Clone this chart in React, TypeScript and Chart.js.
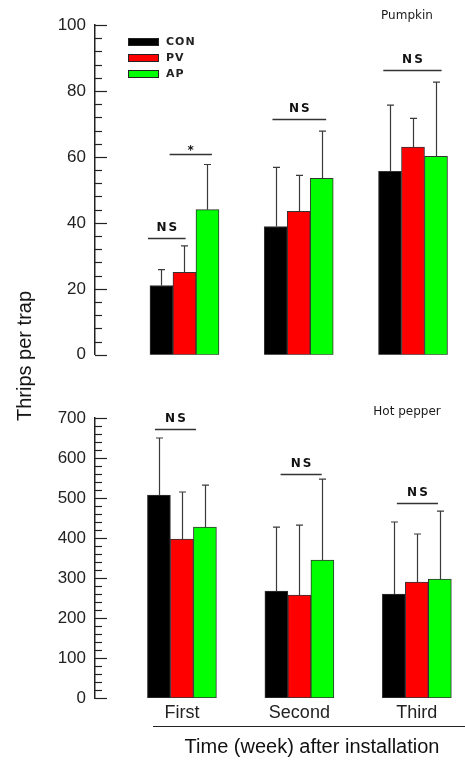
import React, { useEffect, useRef } from 'react';
import { Chart, registerables } from 'chart.js';

Chart.register(...registerables);

// ---------- data ----------
const categories = ['First', 'Second', 'Third'];
const seriesLabels = ['CON', 'PV', 'AP'];
const seriesColors = ['#000000', '#ff0000', '#00ff00'];

// Pumpkin (top panel)
const pumpkinCON = [21, 38.9, 55.6];
const pumpkinPV = [25, 43.5, 63];
const pumpkinAP = [44, 53.5, 60.2];
const pumpkinErrCON = [4.8, 17.9, 20.1];
const pumpkinErrPV = [8, 10.9, 8.7];
const pumpkinErrAP = [13.7, 14.3, 22.5];
const pumpkinSig = [
  { from: 0.68, to: 1.01, y: 35.5, text: 'NS' },
  { from: 0.87, to: 1.24, y: 61, text: '*' },
  { from: 1.77, to: 2.24, y: 71.4, text: 'NS' },
  { from: 2.74, to: 3.25, y: 86.3, text: 'NS' },
];

// Hot pepper (bottom panel)
const pepperCON = [507, 267, 260];
const pepperPV = [397, 257, 290];
const pepperAP = [427, 345, 297];
const pepperErrCON = [143, 160, 180];
const pepperErrPV = [118, 175, 120];
const pepperErrAP = [105, 202, 170];
const pepperSig = [
  { from: 0.77, to: 1.12, y: 672, text: 'NS' },
  { from: 1.84, to: 2.19, y: 560, text: 'NS' },
  { from: 2.83, to: 3.18, y: 487, text: 'NS' },
];

const yAxisTitle = 'Thrips per trap';
const xAxisTitle = 'Time (week) after installation';

// ---------- helpers ----------
const FONT = "'Liberation Sans', Arial, sans-serif";
const SMALL_FONT = "'DejaVu Sans', Verdana, sans-serif";
const INK = '#222222';

function makeDatasets(values: number[][], errors: number[][]) {
  return values.map((vals, s) => ({
    label: seriesLabels[s],
    data: vals.map((v, i) => ({ x: i + 1, y: v })),
    errors: errors[s],
    backgroundColor: seriesColors[s],
    borderColor: '#333333',
    borderWidth: 1,
    borderSkipped: false,
    barThickness: 23,
  }));
}

type PanelOpts = {
  values: number[][];
  errors: number[][];
  sig: { from: number; to: number; y: number; text: string }[];
  yMax: number;
  yMajor: number;
  yMinor: number;
  xMin: number;
  xMax: number;
  padTop: number;
  padBottom: number;
  showX: boolean;
  cropLabel: string;
  cropLabelY: number;
  showLegend: boolean;
  height: number;
};

function makePlugin(o: PanelOpts) {
  return {
    id: 'extras',
    afterDatasetsDraw(chart: any) {
      const ctx = chart.ctx;
      const yScale = chart.scales.y;
      ctx.save();
      ctx.strokeStyle = '#3a3a3a';
      ctx.lineWidth = 1.2;
      chart.data.datasets.forEach((ds: any, d: number) => {
        const meta = chart.getDatasetMeta(d);
        meta.data.forEach((bar: any, i: number) => {
          const v = ds.data[i].y;
          const e = ds.errors[i];
          const x = Math.round(bar.x) + 0.5;
          const yTop = yScale.getPixelForValue(v + e);
          ctx.beginPath();
          ctx.moveTo(x, bar.y);
          ctx.lineTo(x, yTop);
          ctx.moveTo(x - 3.5, yTop);
          ctx.lineTo(x + 3.5, yTop);
          ctx.stroke();
        });
      });
      ctx.restore();
    },
    afterDraw(chart: any) {
      const ctx = chart.ctx;
      const yScale = chart.scales.y;
      const xScale = chart.scales.x;
      const axisX = chart.chartArea.left;
      ctx.save();
      // inward tick marks
      ctx.strokeStyle = INK;
      ctx.lineWidth = 1.2;
      yScale.ticks.forEach((t: any) => {
        const y = Math.round(yScale.getPixelForValue(t.value)) + 0.5;
        const len = t.value % o.yMajor === 0 ? 12 : 7;
        ctx.beginPath();
        ctx.moveTo(axisX, y);
        ctx.lineTo(axisX + len, y);
        ctx.stroke();
      });
      // significance brackets
      o.sig.forEach((s) => {
        const x1 = xScale.getPixelForValue(s.from);
        const x2 = xScale.getPixelForValue(s.to);
        const y = Math.round(yScale.getPixelForValue(s.y)) + 0.5;
        ctx.strokeStyle = '#333333';
        ctx.lineWidth = 1.5;
        ctx.beginPath();
        ctx.moveTo(x1, y);
        ctx.lineTo(x2, y);
        ctx.stroke();
        ctx.fillStyle = '#111111';
        ctx.textAlign = 'center';
        ctx.textBaseline = 'alphabetic';
        if (s.text === '*') {
          ctx.font = `bold 12px ${SMALL_FONT}`;
          (ctx as any).letterSpacing = '0px';
          ctx.fillText(s.text, (x1 + x2) / 2, y - 1);
        } else {
          ctx.font = `bold 12px ${SMALL_FONT}`;
          (ctx as any).letterSpacing = '2px';
          ctx.fillText(s.text, (x1 + x2) / 2 + 1, y - 8);
          (ctx as any).letterSpacing = '0px';
        }
      });
      // crop label
      ctx.fillStyle = '#1a1a1a';
      ctx.font = `12px ${SMALL_FONT}`;
      ctx.textAlign = 'center';
      ctx.textBaseline = 'middle';
      ctx.fillText(o.cropLabel, 407, o.cropLabelY);
      // legend
      if (o.showLegend) {
        chart.data.datasets.forEach((ds: any, d: number) => {
          const cy = 42 + d * 16;
          ctx.fillStyle = ds.backgroundColor;
          ctx.fillRect(128, cy - 4, 31, 8);
          ctx.strokeStyle = '#222222';
          ctx.lineWidth = 1;
          ctx.strokeRect(128.5, cy - 3.5, 30, 7);
          ctx.fillStyle = '#222222';
          ctx.font = `bold 11px ${SMALL_FONT}`;
          (ctx as any).letterSpacing = '1px';
          ctx.textAlign = 'left';
          ctx.textBaseline = 'middle';
          ctx.fillText(ds.label, 166, cy);
          (ctx as any).letterSpacing = '0px';
        });
      }
      // x axis underline and title
      if (o.showX) {
        ctx.strokeStyle = '#222222';
        ctx.lineWidth = 1.2;
        ctx.beginPath();
        ctx.moveTo(153, 356.5);
        ctx.lineTo(465, 356.5);
        ctx.stroke();
        ctx.fillStyle = '#111111';
        ctx.font = `20px ${FONT}`;
        ctx.textAlign = 'center';
        ctx.textBaseline = 'middle';
        ctx.fillText(xAxisTitle, 312, 377);
      }
      ctx.restore();
    },
  };
}

function makeConfig(o: PanelOpts): any {
  return {
    type: 'bar',
    data: { datasets: makeDatasets(o.values, o.errors) },
    plugins: [makePlugin(o)],
    options: {
      responsive: false,
      animation: false,
      events: [],
      layout: { padding: { top: o.padTop, bottom: o.showX ? 0 : o.padBottom, left: 0, right: 0 } },
      plugins: { legend: { display: false }, tooltip: { enabled: false } },
      scales: {
        x: {
          type: 'linear',
          min: o.xMin,
          max: o.xMax,
          offset: false,
          display: o.showX,
          grid: { display: false, drawTicks: false },
          border: { display: false },
          ticks: {
            stepSize: 1,
            includeBounds: false,
            autoSkip: false,
            maxRotation: 0,
            padding: 4,
            color: INK,
            font: { family: FONT, size: 18 },
            callback: (v: number) => (Number.isInteger(v) && categories[v - 1] ? categories[v - 1] : ''),
          },
          afterFit: (s: any) => {
            if (o.showX) s.height = o.padBottom;
          },
        },
        y: {
          min: 0,
          max: o.yMax,
          grid: { display: false, drawTicks: false },
          border: { display: true, color: INK, width: 1.5 },
          ticks: {
            stepSize: o.yMinor,
            autoSkip: false,
            padding: 9,
            color: INK,
            font: { family: FONT, size: 17 },
            callback: (v: number) => (v % o.yMajor === 0 ? String(v) : ''),
          },
          afterFit: (s: any) => {
            s.width = 95;
          },
        },
      },
    },
  };
}

const topPanel: PanelOpts = {
  values: [pumpkinCON, pumpkinPV, pumpkinAP],
  errors: [pumpkinErrCON, pumpkinErrPV, pumpkinErrAP],
  sig: pumpkinSig,
  yMax: 100,
  yMajor: 20,
  yMinor: 4,
  xMin: 0.217,
  xMax: 3.455,
  padTop: 25,
  padBottom: 12,
  showX: false,
  cropLabel: 'Pumpkin',
  cropLabelY: 16,
  showLegend: true,
  height: 374,
};

const bottomPanel: PanelOpts = {
  values: [pepperCON, pepperPV, pepperAP],
  errors: [pepperErrCON, pepperErrPV, pepperErrAP],
  sig: pepperSig,
  yMax: 700,
  yMajor: 100,
  yMinor: 20,
  xMin: 0.26,
  xMax: 3.41,
  padTop: 48,
  padBottom: 62,
  showX: true,
  cropLabel: 'Hot pepper',
  cropLabelY: 42,
  showLegend: false,
  height: 390,
};

function Panel({ opts, top }: { opts: PanelOpts; top: number }) {
  const ref = useRef<HTMLCanvasElement | null>(null);
  useEffect(() => {
    if (!ref.current) return;
    const chart = new Chart(ref.current, makeConfig(opts));
    return () => chart.destroy();
  }, [opts]);
  return (
    <canvas
      ref={ref}
      width={465}
      height={opts.height}
      style={{ position: 'absolute', left: 0, top, width: 465, height: opts.height, display: 'block' }}
    />
  );
}

export default function App() {
  return (
    <div style={{ position: 'absolute', left: 0, top: 0, width: 465, height: 760, background: '#ffffff', overflow: 'hidden' }}>
      <Panel opts={topPanel} top={0} />
      <Panel opts={bottomPanel} top={370} />
      <div
        style={{
          position: 'absolute',
          left: 24,
          top: 356,
          transform: 'translate(-50%, -50%) rotate(-90deg)',
          whiteSpace: 'nowrap',
          fontFamily: FONT,
          fontSize: 20,
          color: '#111111',
          lineHeight: 1,
        }}
      >
        {yAxisTitle}
      </div>
    </div>
  );
}
